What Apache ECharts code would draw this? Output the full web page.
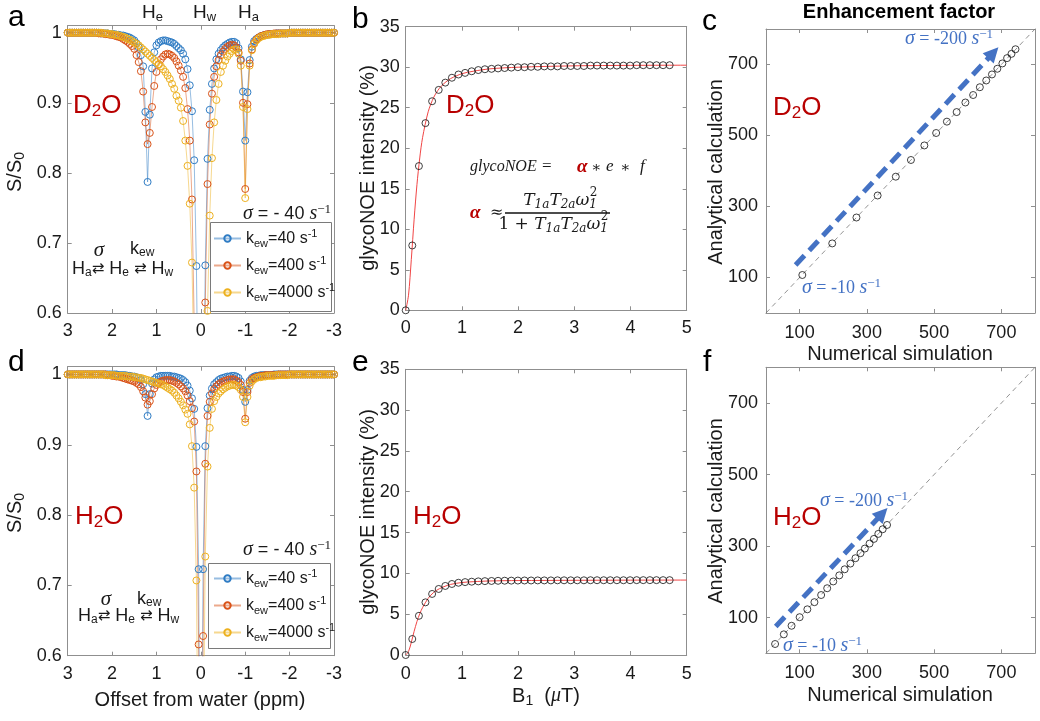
<!DOCTYPE html>
<html><head><meta charset="utf-8">
<script src="https://cdn.jsdelivr.net/npm/echarts@6/dist/echarts.min.js"></script>
<style>html,body{margin:0;padding:0;background:#fff}#c{width:1040px;height:721px}</style>
</head><body><div id="c"></div>
<script>
// ---------------- DATA ----------------
const offsets = [
 3, 2.95, 2.9, 2.85, 2.8, 2.75, 2.7, 2.65, 2.6, 2.55,
 2.5, 2.45, 2.4, 2.35, 2.3, 2.25, 2.2, 2.15, 2.1, 2.05,
 2, 1.95, 1.9, 1.85, 1.8, 1.75, 1.7, 1.65, 1.6, 1.55,
 1.5, 1.45, 1.4, 1.35, 1.3, 1.25, 1.2, 1.15, 1.1, 1.05,
 1, 0.95, 0.9, 0.85, 0.8, 0.75, 0.7, 0.65, 0.6, 0.55,
 0.5, 0.45, 0.4, 0.35, 0.3, 0.25, 0.2, 0.15, 0.1, 0.05,
 0, -0.05, -0.1, -0.15, -0.2, -0.25, -0.3, -0.35, -0.4, -0.45,
 -0.5, -0.55, -0.6, -0.65, -0.7, -0.75, -0.8, -0.85, -0.9, -0.95,
 -1, -1.05, -1.1, -1.15, -1.2, -1.25, -1.3, -1.35, -1.4, -1.45,
 -1.5, -1.55, -1.6, -1.65, -1.7, -1.75, -1.8, -1.85, -1.9, -1.95,
 -2, -2.05, -2.1, -2.15, -2.2, -2.25, -2.3, -2.35, -2.4, -2.45,
 -2.5, -2.55, -2.6, -2.65, -2.7, -2.75, -2.8, -2.85, -2.9, -2.95,
 -3];

// panel a (D2O) Z-spectra
const d2oK40 = [
 1,1,1,1,1,1,1,1,1,1,
 1,1,1,1,1,.999,.999,.999,.999,.998,
 .998,.998,.997,.997,.996,.996,.995,.994,.993,.991,
 .989,.985,.979,.968,.952,.887,.787,.883,.949,.972,
 .982,.986,.988,.989,.989,.988,.987,.986,.984,.981,
 .978,.975,.970,.962,.948,.925,.888,.818,.667,.40,
 .15,.40,.668,.820,.890,.927,.949,.962,.970,.975,
 .979,.982,.984,.986,.987,.987,.985,.978,.962,.916,
 .846,.915,.961,.980,.988,.991,.993,.995,.996,.997,
 .997,.998,.998,.998,.999,.999,.999,.999,.999,.999,
 1,1,1,1,1,1,1,1,1,1,
 1,1,1,1,1,1,1,1,1,1,
 1];
const d2oK400 = [
 1,1,1,1,1,1,1,1,1,1,
 1,1,1,1,.999,.999,.999,.998,.998,.997,
 .997,.996,.995,.994,.993,.991,.989,.987,.984,.981,
 .977,.968,.958,.945,.916,.872,.841,.857,.894,.924,
 .944,.955,.962,.966,.969,.970,.969,.967,.964,.959,
 .953,.946,.937,.921,.891,.846,.762,.585,.35,.15,
 .05,.15,.615,.784,.869,.913,.937,.952,.961,.968,
 .973,.977,.980,.982,.983,.982,.979,.972,.960,.900,
 .777,.898,.956,.976,.985,.990,.993,.995,.996,.997,
 .998,.998,.998,.999,.999,.999,.999,.999,.999,.999,
 1,1,1,1,1,1,1,1,1,1,
 1,1,1,1,1,1,1,1,1,1,
 1];
const d2oK4000 = [
 1,1,1,1,1,1,1,1,1,1,
 1,1,1,1,1,1,.999,.999,.999,.998,
 .998,.997,.997,.996,.995,.994,.993,.991,.990,.988,
 .986,.984,.982,.979,.976,.973,.970,.967,.964,.961,
 .958,.955,.952,.948,.944,.939,.934,.927,.920,.910,
 .903,.893,.874,.846,.810,.756,.672,.50,.35,.20,
 .10,.15,.35,.603,.739,.821,.872,.904,.927,.944,
 .953,.960,.966,.970,.974,.976,.976,.970,.953,.894,
 .764,.891,.953,.975,.984,.989,.992,.994,.995,.996,
 .997,.997,.998,.998,.998,.998,.999,.999,.999,.999,
 1,1,1,1,1,1,1,1,1,1,
 1,1,1,1,1,1,1,1,1,1,
 1];

// panel d (H2O) Z-spectra
const h2oK40 = [
 1,1,1,1,1,1,1,1,1,1,
 1,1,1,1,1,1,1,1,1,1,
 1,1,1,.999,.999,.999,.999,.998,.998,.997,
 .997,.996,.995,.992,.986,.972,.941,.972,.987,.993,
 .996,.997,.998,.998,.998,.998,.998,.997,.997,.996,
 .995,.994,.992,.989,.984,.977,.966,.951,.897,.723,
 .20,.723,.898,.952,.970,.980,.986,.989,.992,.994,
 .995,.996,.997,.997,.998,.998,.997,.995,.990,.978,
 .961,.978,.991,.995,.997,.998,.998,.999,.999,.999,
 .999,.999,.999,1,1,1,1,1,1,1,
 1,1,1,1,1,1,1,1,1,1,
 1,1,1,1,1,1,1,1,1,1,
 1];
const h2oK400 = [
 1,1,1,1,1,1,1,1,1,1,
 1,1,1,1,1,1,1,1,.999,.999,
 .998,.998,.997,.997,.996,.995,.994,.993,.992,.991,
 .990,.988,.986,.982,.976,.967,.957,.962,.972,.980,
 .985,.988,.990,.991,.992,.992,.992,.991,.990,.988,
 .986,.983,.980,.976,.970,.962,.952,.933,.862,.616,
 .20,.628,.873,.941,.961,.973,.979,.983,.986,.988,
 .990,.991,.992,.993,.993,.993,.991,.989,.985,.975,
 .937,.975,.988,.993,.995,.996,.997,.998,.998,.999,
 .999,.999,.999,.999,.999,1,1,1,1,1,
 1,1,1,1,1,1,1,1,1,1,
 1,1,1,1,1,1,1,1,1,1,
 1];
const h2oK4000 = [
 1,1,1,1,1,1,1,1,1,1,
 1,1,1,1,1,1,1,.999,.999,.999,
 .999,.999,.998,.998,.998,.998,.998,.997,.997,.997,
 .996,.996,.995,.995,.994,.993,.992,.991,.990,.989,
 .988,.987,.986,.985,.983,.981,.979,.977,.974,.970,
 .966,.961,.956,.950,.944,.929,.898,.839,.707,.35,
 .20,.45,.741,.869,.924,.951,.962,.968,.973,.976,
 .979,.981,.983,.984,.985,.985,.984,.982,.978,.968,
 .932,.968,.984,.990,.993,.995,.996,.996,.997,.997,
 .998,.998,.998,.998,.999,.999,.999,.999,.999,.999,
 1,1,1,1,1,1,1,1,1,1,
 1,1,1,1,1,1,1,1,1,1,
 1];

// panels b / e : glycoNOE vs B1
const b1 = [0,0.117,0.235,0.352,0.470,0.587,0.705,0.822,0.939,1.057,1.174,1.292,1.409,1.527,1.644,1.761,1.879,1.996,2.114,2.231,2.349,2.466,2.583,2.701,2.818,2.936,3.053,3.171,3.288,3.405,3.523,3.640,3.758,3.875,3.993,4.110,4.227,4.345,4.462,4.580,4.697];
const d2oNOE = [0,8.0,17.8,23.1,25.8,27.2,28.1,28.7,29.1,29.3,29.5,29.65,29.75,29.8,29.85,29.9,29.95,30.0,30.0,30.05,30.05,30.1,30.1,30.1,30.15,30.15,30.15,30.15,30.2,30.2,30.2,30.2,30.2,30.2,30.2,30.25,30.25,30.25,30.25,30.25,30.25];
const h2oNOE = [0,1.96,4.8,6.45,7.48,8.09,8.46,8.7,8.85,8.93,8.98,9.02,9.05,9.07,9.09,9.1,9.11,9.12,9.13,9.13,9.14,9.14,9.14,9.15,9.15,9.15,9.15,9.15,9.16,9.16,9.16,9.16,9.16,9.16,9.16,9.17,9.17,9.17,9.17,9.17,9.17];
const fitB1 = [0,0.05,0.1,0.15,0.2,0.25,0.3,0.4,0.5,0.6,0.7,0.8,1.0,1.2,1.5,2.0,3.0,4.0,5.0];
const d2oFit = [0,1.86,6.29,11.24,15.5,18.8,21.3,24.5,26.3,27.4,28.1,28.6,29.2,29.5,29.8,30.0,30.17,30.23,30.25];
const h2oFit = [0,0.42,1.55,2.9,4.1,5.05,5.8,6.95,7.68,8.12,8.42,8.65,8.88,8.98,9.07,9.12,9.15,9.17,9.18];

// panels c / f : enhancement factor
const cNum = [108,197,269,332,386,431,471,506,538,567,593,616,636,655,672,688,703,717,730,742];
const cAna = [107,196,269,331,384,431,472,507,539,566,593,614,636,655,672,688,703,718,730,743];
const fNum = [27,53,76,100,123,144,164,182,200,218,234,251,266,281,294,308,321,334,347,360];
const fAna = [26,53,77,101,123,143,163,182,201,218,235,251,266,280,293,307,320,334,347,359];
const diag = [0, 800];
const cArrow = [[88,135],[676,733]];
const fArrow = [[29,75],[346,391]];

const zTicksX = [-3,-2,-1,0,1,2,3];
const zTicksY = [0.6,0.7,0.8,0.9,1];
const bTicksX = [0,1,2,3,4,5];
const bTicksY = [0,5,10,15,20,25,30,35];
const cTicks = [100,300,500,700];
const kewNames = ['40','400','4000'];

// ---------------- STYLE ----------------
const SANS = '"Liberation Sans", Arial, Helvetica, sans-serif';
const SERIF = '"Liberation Serif", "Times New Roman", serif';
const DSERIF = '"DejaVu Serif", serif';
const INK = '#1a1a1a';
const BOX = '#8f8f8f';
const DRED = '#B80000';
const ABLUE = '#4472C4';
const COLS = ['#2f7cc4', '#D95319', '#EDB120'];

const GRIDS = [
  {left:67.7, top:25.7, width:266.3, height:287.3},
  {left:405.7, top:26.7, width:281, height:283.6},
  {left:766, top:29, width:269, height:284},
  {left:67.7, top:366.7, width:266.3, height:289},
  {left:405.7, top:369.3, width:281, height:285.7},
  {left:766, top:367.3, width:269, height:286}
];

function axisPair(dim, gi, cfg) {
  const base = {
    type:'value', gridIndex:gi, min:cfg.min, max:cfg.max, inverse:!!cfg.inverse,
    splitLine:{show:false},
    axisLine:{show:true, onZero:false, lineStyle:{color:BOX, width:1}},
    axisTick:{show:true, inside:true, length:4, lineStyle:{color:BOX, width:1}, customValues:cfg.ticks}
  };
  const p1 = dim === 'x' ? 'bottom' : 'left';
  const p2 = dim === 'x' ? 'top' : 'right';
  return [
    Object.assign({}, base, {position:p1, axisLabel:{show:true, customValues:cfg.ticks, formatter:v => String(v),
      color:INK, fontSize:18, fontFamily:SANS, margin:cfg.margin}}),
    Object.assign({}, base, {position:p2, axisLabel:{show:false}})
  ];
}

const xAxis = [].concat(
  axisPair('x',0,{min:-3,max:3,inverse:true,ticks:zTicksX,margin:9}),
  axisPair('x',1,{min:0,max:5,ticks:bTicksX,margin:9}),
  axisPair('x',2,{min:0,max:800,ticks:cTicks,margin:11}),
  axisPair('x',3,{min:-3,max:3,inverse:true,ticks:zTicksX,margin:9}),
  axisPair('x',4,{min:0,max:5,ticks:bTicksX,margin:10}),
  axisPair('x',5,{min:0,max:800,ticks:cTicks,margin:11})
);
const yAxis = [].concat(
  axisPair('y',0,{min:0.6,max:1.01,ticks:zTicksY,margin:6}),
  axisPair('y',1,{min:0,max:35,ticks:bTicksY,margin:6}),
  axisPair('y',2,{min:0,max:800,ticks:cTicks,margin:8}),
  axisPair('y',3,{min:0.6,max:1.011,ticks:zTicksY,margin:6}),
  axisPair('y',4,{min:0,max:35,ticks:bTicksY,margin:6}),
  axisPair('y',5,{min:0,max:800,ticks:cTicks,margin:8})
);

function zSeries(kName, color, vals, gi) {
  return {
    type:'line', name:'k' + kName, xAxisIndex:2*gi, yAxisIndex:2*gi,
    data: offsets.map((x,i) => [x, vals[i]]),
    symbol:'circle', symbolSize:7, showSymbol:true, showAllSymbol:true, clip:true,
    itemStyle:{color:'rgba(255,255,255,0)', borderColor:color, borderWidth:1},
    lineStyle:{color:color, width:1, opacity:0.5},
    emphasis:{disabled:true}, animation:false
  };
}
function fitSeries(xs, ys, gi) {
  return {type:'line', xAxisIndex:2*gi, yAxisIndex:2*gi, data: xs.map((x,i)=>[x, ys[i]]),
    showSymbol:false, smooth:0.3, clip:true, lineStyle:{color:'#f04545', width:1}, emphasis:{disabled:true}};
}
function ptSeries(xs, ys, gi, size) {
  return {type:'scatter', xAxisIndex:2*gi, yAxisIndex:2*gi, data: xs.map((x,i)=>[x, ys[i]]),
    symbol:'circle', symbolSize:size, z:3,
    itemStyle:{color:'rgba(255,255,255,0)', borderColor:'#111', borderWidth:1}, emphasis:{disabled:true}};
}
function diagSeries(gi, arrow) {
  return {type:'line', xAxisIndex:2*gi, yAxisIndex:2*gi, data:[[diag[0],diag[0]],[diag[1],diag[1]]],
    showSymbol:false, lineStyle:{color:'#777', width:0.8, type:[5,4]}, emphasis:{disabled:true},
    markLine:{silent:true, animation:false, symbol:['none','triangle'], symbolSize:15,
      label:{show:false}, emphasis:{disabled:true},
      lineStyle:{color:ABLUE, width:5, type:[13,7], opacity:1},
      itemStyle:{color:ABLUE},
      data:[[{coord:arrow[0]},{coord:arrow[1]}]]}};
}

const series = [
  zSeries(kewNames[0], COLS[0], d2oK40, 0),
  zSeries(kewNames[1], COLS[1], d2oK400, 0),
  zSeries(kewNames[2], COLS[2], d2oK4000, 0),
  zSeries(kewNames[0], COLS[0], h2oK40, 3),
  zSeries(kewNames[1], COLS[1], h2oK400, 3),
  zSeries(kewNames[2], COLS[2], h2oK4000, 3),
  fitSeries(fitB1, d2oFit, 1), ptSeries(b1, d2oNOE, 1, 7),
  fitSeries(fitB1, h2oFit, 4), ptSeries(b1, h2oNOE, 4, 7),
  diagSeries(2, cArrow), ptSeries(cNum, cAna, 2, 7),
  diagSeries(5, fArrow), ptSeries(fNum, fAna, 5, 7)
];

const LEG_RICH = {
  m:{fontSize:16, fontFamily:SANS, color:INK, lineHeight:21, verticalAlign:'middle'},
  s:{fontSize:11, fontFamily:SANS, color:INK, lineHeight:11, verticalAlign:'bottom'},
  p:{fontSize:11, fontFamily:SANS, color:INK, lineHeight:11, verticalAlign:'top'}
};
function legendOf(left, top) {
  return {data: kewNames.map(k => 'k' + k), orient:'vertical', left, top, itemWidth:27, itemHeight:8,
    itemGap:6, padding:0, selectedMode:false, z:10,
    formatter: n => '{m|k}{s|ew}{m|=' + n.slice(1) + ' s}{p|-1}', textStyle:{rich:LEG_RICH}};
}

// ---------------- TEXT HELPERS ----------------
function T(x, y, text, opt) {
  opt = opt || {};
  const st = Object.assign({text, fill:INK, fontFamily:SANS, fontSize:20, align:'left', verticalAlign:'middle'}, opt);
  const rot = st.rotation; delete st.rotation;
  const el = {type:'text', x, y, z:20, silent:true, style:st};
  if (rot) el.rotation = rot;
  return el;
}
function subRich(fs, ss, fill, fam, d) {
  const lh = ss + 2*d;
  return {
    m:{fontSize:fs, fontFamily:fam, fill, lineHeight:lh, verticalAlign:'middle'},
    s:{fontSize:ss, fontFamily:fam, fill, lineHeight:ss, verticalAlign:'bottom'},
    p:{fontSize:ss, fontFamily:fam, fill, lineHeight:ss, verticalAlign:'top'},
    i:{fontSize:fs, fontFamily:SERIF, fontStyle:'italic', fill, lineHeight:lh, verticalAlign:'middle'},
    a:{fontSize:fs - 3, fontFamily:'"DejaVu Sans", sans-serif', fill, lineHeight:lh, verticalAlign:'middle'}
  };
}
function sigmaRich(fill, numFam, numSize) {
  return {
    i:{fontFamily:SERIF, fontStyle:'italic', fontSize:20, fill, lineHeight:22, verticalAlign:'middle'},
    m:{fontFamily:numFam, fontSize:numSize, fill, lineHeight:22, verticalAlign:'middle'},
    p:{fontFamily:SERIF, fontSize:13, fill, lineHeight:13, verticalAlign:'top'}
  };
}
const mathRich = {
  i:{fontFamily:DSERIF, fontStyle:'italic', fontSize:17, fill:INK, lineHeight:20, verticalAlign:'middle'},
  n:{fontFamily:DSERIF, fontSize:17, fill:INK, lineHeight:20, verticalAlign:'middle'},
  s:{fontFamily:DSERIF, fontStyle:'italic', fontSize:12, fill:INK, lineHeight:12, verticalAlign:'bottom'}
};
const ROT = Math.PI / 2;
const H = subRich(19, 13, INK, SANS, 4);
const WAT = subRich(26, 17, DRED, SANS, 5);
const SCH = subRich(18, 12, INK, SANS, 4);
const LAB = subRich(20, 14, INK, SANS, 5);

const graphics = [
  T(8, 17.6, 'a', {fontSize:30, fill:'#000'}),
  T(352, 19.6, 'b', {fontSize:30, fill:'#000'}),
  T(702, 21.6, 'c', {fontSize:30, fill:'#000'}),
  T(8, 362.6, 'd', {fontSize:30, fill:'#000'}),
  T(352, 362.6, 'e', {fontSize:30, fill:'#000'}),
  T(703, 362.6, 'f', {fontSize:30, fill:'#000'}),
  T(899, 12.5, 'Enhancement factor', {fontSize:20, fontWeight:'bold', align:'center', fill:'#000'}),
  T(142, 13, '{m|H}{s|e}', {rich:H}),
  T(193, 13, '{m|H}{s|w}', {rich:H}),
  T(238, 13, '{m|H}{s|a}', {rich:H}),
  T(73, 106, '{m|D}{s|2}{m|O}', {rich:WAT}),
  T(446, 106, '{m|D}{s|2}{m|O}', {rich:WAT}),
  T(773, 108, '{m|D}{s|2}{m|O}', {rich:WAT}),
  T(75, 517, '{m|H}{s|2}{m|O}', {rich:WAT}),
  T(413, 517, '{m|H}{s|2}{m|O}', {rich:WAT}),
  T(773, 518, '{m|H}{s|2}{m|O}', {rich:WAT}),
  T(243, 214, '{i|σ}{m| = - 40 }{i|s}{p|−1}', {rich:sigmaRich(INK, SANS, 18)}),
  T(243, 550, '{i|σ}{m| = - 40 }{i|s}{p|−1}', {rich:sigmaRich(INK, SANS, 18)}),
  T(905, 39, '{i|σ}{m| = -200 }{i|s}{p|−1}', {rich:sigmaRich(ABLUE, SERIF, 18)}),
  T(802, 288, '{i|σ}{m| = -10 }{i|s}{p|−1}', {rich:sigmaRich(ABLUE, SERIF, 18)}),
  T(820, 501, '{i|σ}{m| = -200 }{i|s}{p|−1}', {rich:sigmaRich(ABLUE, SERIF, 18)}),
  T(783, 646, '{i|σ}{m| = -10 }{i|s}{p|−1}', {rich:sigmaRich(ABLUE, SERIF, 18)}),
  // exchange schemes
  T(99, 250, 'σ', {fontFamily:SERIF, fontStyle:'italic', fontSize:21, align:'center'}),
  T(130, 249, '{m|k}{s|ew}', {rich:SCH}),
  T(72, 269, '{m|H}{s|a}{a|⇄}{m| H}{s|e}{m| }{a|⇄}{m| H}{s|w}', {rich:SCH}),
  T(106, 599, 'σ', {fontFamily:SERIF, fontStyle:'italic', fontSize:21, align:'center'}),
  T(137, 599, '{m|k}{s|ew}', {rich:SCH}),
  T(78, 616, '{m|H}{s|a}{a|⇄}{m| H}{s|e}{m| }{a|⇄}{m| H}{s|w}', {rich:SCH}),
  // legend boxes
  {type:'rect', z:5, silent:true, shape:{x:210.5, y:222.5, width:121, height:89}, style:{fill:'#fff', stroke:'#7a7a7a', lineWidth:1}},
  {type:'rect', z:5, silent:true, shape:{x:208.5, y:563.5, width:122, height:85}, style:{fill:'#fff', stroke:'#7a7a7a', lineWidth:1}},
  // formula panel b
  T(470, 167, 'glycoNOE', {fontFamily:SERIF, fontStyle:'italic', fontSize:16}),
  T(542, 167, '=', {fontFamily:SERIF, fontSize:17}),
  T(577, 167, 'α', {fontFamily:SERIF, fontStyle:'italic', fontWeight:'bold', fontSize:19, fill:DRED}),
  T(591, 168, '∗', {fontFamily:DSERIF, fontSize:15}),
  T(606, 167, 'e', {fontFamily:SERIF, fontStyle:'italic', fontSize:17}),
  T(620, 168, '∗', {fontFamily:DSERIF, fontSize:15}),
  T(640, 167, 'f', {fontFamily:SERIF, fontStyle:'italic', fontSize:17}),
  T(470, 213, 'α', {fontFamily:SERIF, fontStyle:'italic', fontWeight:'bold', fontSize:19, fill:DRED}),
  T(490, 213, '≈', {fontFamily:DSERIF, fontSize:16}),
  {type:'line', z:20, silent:true, shape:{x1:505, y1:213, x2:610, y2:213}, style:{stroke:'#111', lineWidth:1.3}},
  T(597, 201, '{i|T}{s|1a}{i|T}{s|2a}{i|ω}{s|1}', {align:'right', rich:mathRich}),
  T(597.5, 192.5, '2', {align:'right', fontFamily:DSERIF, fontSize:12}),
  T(608, 225, '{n|1 + }{i|T}{s|1a}{i|T}{s|2a}{i|ω}{s|1}', {align:'right', rich:mathRich}),
  T(608.5, 216.5, '2', {align:'right', fontFamily:DSERIF, fontSize:12}),
  // axis titles
  T(15, 172, '{m|S/S}{s|0}', {rotation:ROT, align:'center', rich:LAB}),
  T(15, 513, '{m|S/S}{s|0}', {rotation:ROT, align:'center', rich:LAB}),
  T(368, 168, 'glycoNOE intensity (%)', {rotation:ROT, align:'center'}),
  T(368, 512, 'glycoNOE intensity (%)', {rotation:ROT, align:'center'}),
  T(716, 172, 'Analytical calculation', {rotation:ROT, align:'center'}),
  T(716, 511, 'Analytical calculation', {rotation:ROT, align:'center'}),
  T(200, 700, 'Offset from water (ppm)', {align:'center'}),
  T(546, 696, '{m|B}{s|1}{m|  (}{i|μ}{m|T)}', {align:'center', rich:LAB}),
  T(900, 354, 'Numerical simulation', {align:'center'}),
  T(900, 695, 'Numerical simulation', {align:'center'})
];

const option = {
  animation:false,
  backgroundColor:'#fff',
  textStyle:{fontFamily:SANS},
  grid: GRIDS,
  xAxis, yAxis,
  legend:[legendOf(213, 228), legendOf(213, 568)],
  series,
  graphic: graphics
};
const chart = echarts.init(document.getElementById('c'), null, {renderer:'canvas'});
chart.setOption(option);
</script></body></html>
